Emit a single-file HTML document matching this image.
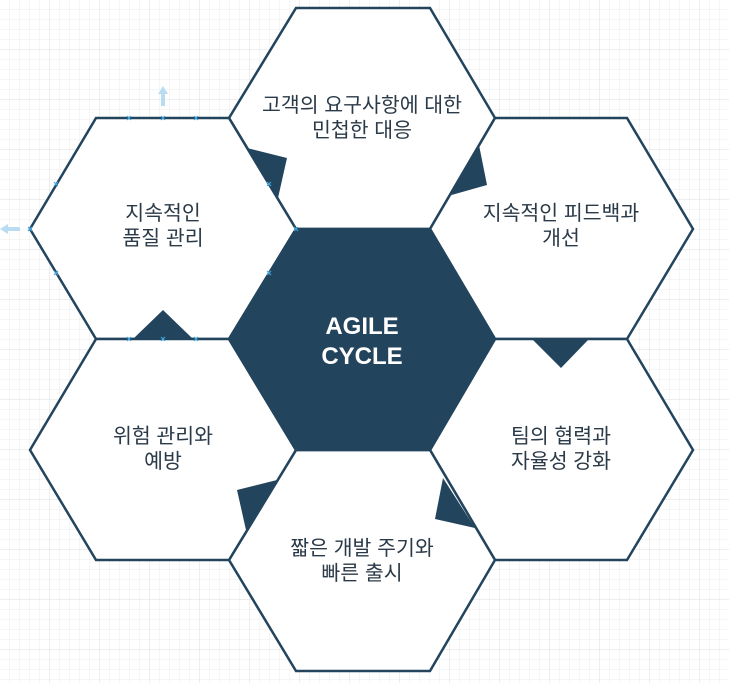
<!DOCTYPE html>
<html><head><meta charset="utf-8"><style>
body{margin:0;width:729px;height:683px;overflow:hidden;background:#fff}
svg{display:block}
text{font-family:"Liberation Sans","Noto Sans CJK KR",sans-serif;font-size:20.5px;fill:#2b3a48;text-anchor:middle}
</style></head><body>
<svg width="729" height="683" viewBox="0 0 729 683">
<defs>
<pattern id="g" width="10" height="10" patternUnits="userSpaceOnUse"><path d="M10 0V10H0" fill="none" stroke="#ececec" stroke-width="1"/></pattern>
<pattern id="G" width="50" height="50" patternUnits="userSpaceOnUse"><rect width="50" height="50" fill="url(#g)"/><path d="M50 0V50H0" fill="none" stroke="#dcdcdc" stroke-width="1"/></pattern>
</defs>
<rect width="729" height="683" fill="url(#G)"/>
<g fill="#fff" stroke="#23445d" stroke-width="2.5" stroke-linejoin="miter">
<polygon points="296,8 430,8 495,118 430,229 296,229 229,118"/>
<polygon points="96,118 229,118 296,229 229,339 96,339 30,229"/>
<polygon points="495,118 627,118 693,229 627,339 495,339 430,229"/>
<polygon points="495,339 627,339 693,450 627,560 495,560 430,450"/>
<polygon points="296,450 430,450 495,560 430,671 296,671 229,560"/>
<polygon points="96,339 229,339 296,450 229,560 96,560 30,450"/>
<polygon points="296,229 430,229 495,339 430,450 296,450 229,339" fill="#23445d"/>
</g>
<g fill="#23445d">
<polygon points="247,148 287,158 278,198 262,172"/>
<polygon points="479,145 487,185 448,196"/>
<polygon points="532,339 589,339 561,368"/>
<polygon points="443,478 435,519 475,528"/>
<polygon points="237,490 277,480 246,530"/>
<polygon points="133,339 193,339 163,310"/>
</g>
<g fill="#b9dcf2">
<polygon points="163,86 158,94 161,94 161,106 165,106 165,94 168,94"/>
<polygon points="0,229 8,224 8,227 20,227 20,231 8,231 8,234"/>
</g>
<g stroke="#3fa9e0" stroke-width="1.2">
<path d="M127,116l4,4M131,116l-4,4M161,116l4,4M165,116l-4,4M194,116l4,4M198,116l-4,4M127,337l4,4M131,337l-4,4M161,337l4,4M165,337l-4,4M194,337l4,4M198,337l-4,4M54,182l4,4M58,182l-4,4M54,271l4,4M58,271l-4,4M267,182l4,4M271,182l-4,4M267,271l4,4M271,271l-4,4M28,227l4,4M32,227l-4,4M294,227l4,4M298,227l-4,4"/>
</g>
<g>
<text x="362" y="112">고객의 요구사항에 대한</text>
<text x="362" y="137">민첩한 대응</text>
<text x="163" y="220">지속적인</text>
<text x="163" y="245">품질 관리</text>
<text x="561" y="220">지속적인 피드백과</text>
<text x="561" y="245">개선</text>
<text x="561" y="443">팀의 협력과</text>
<text x="561" y="468">자율성 강화</text>
<text x="362" y="555">짧은 개발 주기와</text>
<text x="362" y="580">빠른 출시</text>
<text x="163" y="443">위험 관리와</text>
<text x="163" y="468">예방</text>
<text x="362" y="334" style="font-size:24px;font-weight:bold;fill:#fff">AGILE</text>
<text x="362" y="364" style="font-size:24px;font-weight:bold;fill:#fff">CYCLE</text>
</g>
</svg>
</body></html>
